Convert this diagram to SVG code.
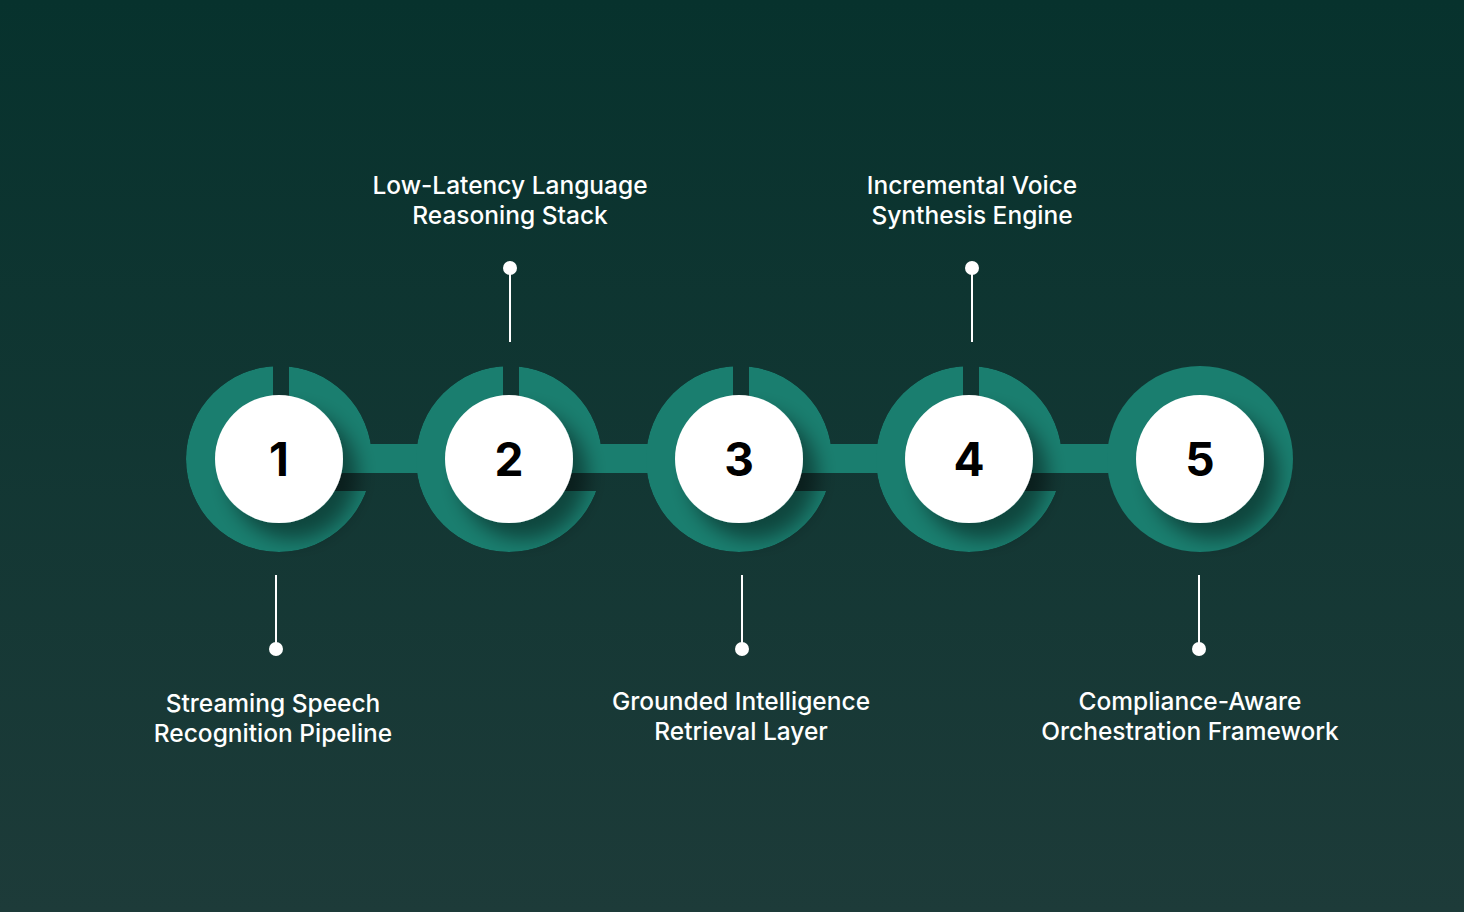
<svg xmlns="http://www.w3.org/2000/svg" width="1464" height="912" viewBox="0 0 1464 912">
<defs>
<linearGradient id="bg" x1="0" y1="0" x2="0" y2="1"><stop offset="0" stop-color="#07322d"/><stop offset="1" stop-color="#1d3b39"/></linearGradient>
<filter id="sh" x="-50%" y="-50%" width="200%" height="200%"><feDropShadow dx="14" dy="16" stdDeviation="10" flood-color="#000" flood-opacity="0.45"/></filter>
<mask id="m" maskUnits="userSpaceOnUse" x="-100" y="-100" width="200" height="200">
<circle cx="0" cy="0" r="93" fill="#fff"/>
<rect x="-6" y="-100" width="16" height="60" fill="#000"/>
<rect x="40" y="-15" width="60" height="47" fill="#000"/>
</mask>
<style>
.ring{fill:#1a7e6f}
.w{fill:#fff}
.n{font-family:Inter,"Liberation Sans",sans-serif;font-weight:700;font-size:46px;fill:#000;text-anchor:middle}
.t{font-family:Inter,"Liberation Sans",sans-serif;font-weight:500;font-size:24.5px;fill:#fff;text-anchor:middle}
.s{stroke:#fff;stroke-width:2}
</style>
</defs>
<rect width="1464" height="912" fill="url(#bg)"/>
<g id="connectors">
<rect x="279" y="444" width="920" height="29" class="ring"/>
<line class="s" x1="510" y1="268" x2="510" y2="342"/><circle class="w" cx="510" cy="268" r="7"/>
<line class="s" x1="972" y1="268" x2="972" y2="342"/><circle class="w" cx="972" cy="268" r="7"/>
<line class="s" x1="276" y1="575" x2="276" y2="649"/><circle class="w" cx="276" cy="649" r="7"/>
<line class="s" x1="742" y1="575" x2="742" y2="649"/><circle class="w" cx="742" cy="649" r="7"/>
<line class="s" x1="1199" y1="575" x2="1199" y2="649"/><circle class="w" cx="1199" cy="649" r="7"/>
</g>
<g id="n1" transform="translate(279,459)"><circle class="ring" r="93" mask="url(#m)"/><circle class="w" r="64" filter="url(#sh)"/><text class="n" y="17">1</text></g>
<g id="n2" transform="translate(509,459)"><circle class="ring" r="93" mask="url(#m)"/><circle class="w" r="64" filter="url(#sh)"/><text class="n" y="17">2</text></g>
<g id="n3" transform="translate(739,459)"><circle class="ring" r="93" mask="url(#m)"/><circle class="w" r="64" filter="url(#sh)"/><text class="n" y="17">3</text></g>
<g id="n4" transform="translate(969,459)"><circle class="ring" r="93" mask="url(#m)"/><circle class="w" r="64" filter="url(#sh)"/><text class="n" y="17">4</text></g>
<g id="n5" transform="translate(1200,459)"><circle class="ring" r="93"/><circle class="w" r="64" filter="url(#sh)"/><text class="n" y="17">5</text></g>
<g id="labels">
<text class="t" x="510" y="194">Low-Latency Language</text><text class="t" x="510" y="224">Reasoning Stack</text>
<text class="t" x="972" y="194">Incremental Voice</text><text class="t" x="972" y="224">Synthesis Engine</text>
<text class="t" x="273" y="712">Streaming Speech</text><text class="t" x="273" y="742">Recognition Pipeline</text>
<text class="t" x="741" y="710">Grounded Intelligence</text><text class="t" x="741" y="740">Retrieval Layer</text>
<text class="t" x="1190" y="710">Compliance-Aware</text><text class="t" x="1190" y="740">Orchestration Framework</text>
</g>
</svg>
